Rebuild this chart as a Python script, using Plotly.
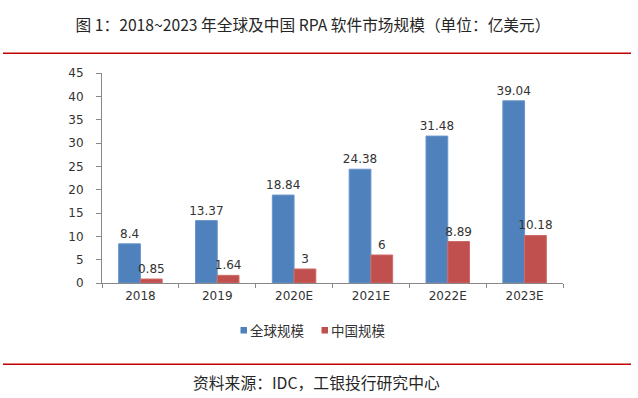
import plotly.graph_objects as go

categories = ["2018", "2019", "2020E", "2021E", "2022E", "2023E"]
global_values = [8.4, 13.37, 18.84, 24.38, 31.48, 39.04]
china_values = [0.85, 1.64, 3, 6, 8.89, 10.18]
series_names = ["全球规模", "中国规模"]
series_colors = ["#4F81BD", "#C0504D"]
edge_colors = ["#6A95C9", "#CD6B68"]
y_ticks = [0, 5, 10, 15, 20, 25, 30, 35, 40, 45]
title_text = "图 1：2018~2023 年全球及中国 RPA 软件市场规模（单位：亿美元）"
source_text = "资料来源：IDC，工银投行研究中心"

W, H = 638, 398
L, R, T, B = 102, 563, 73, 283
PW, PH = R - L, B - T


def px(x):
    return (x - L) / PW


def py(y):
    return (B - y) / PH


num_font = dict(family="DejaVu Sans, Verdana, sans-serif", size=12, color="#333333")
cjk = "Noto Sans CJK SC, sans-serif"

fig = go.Figure()
for name, vals, col, edge in zip(series_names, [global_values, china_values], series_colors, edge_colors):
    fig.add_trace(go.Bar(
        x=categories, y=vals, name=name,
        marker=dict(color=col, line=dict(color=edge, width=1)),
        text=[f"{v:g}" for v in vals], textposition="outside", constraintext="none",
        textfont=num_font, cliponaxis=False, showlegend=False,
    ))

shapes = [
    dict(type="line", xref="paper", yref="paper", x0=px(3), x1=px(631), y0=py(53.3), y1=py(53.3),
         line=dict(color="#C00000", width=1.5)),
    dict(type="line", xref="paper", yref="paper", x0=px(3), x1=px(631), y0=py(364.3), y1=py(364.3),
         line=dict(color="#C00000", width=1.5)),
]
annotations = [
    dict(text=source_text, xref="paper", yref="paper", x=px(316.7), y=py(382.7),
         xanchor="center", yanchor="middle", showarrow=False,
         font=dict(family=cjk, size=15.8, color="#262626")),
]
legend_x = [240.5, 321.5]
for name, col, lx in zip(series_names, series_colors, legend_x):
    shapes.append(dict(type="rect", xref="paper", yref="paper", x0=px(lx), x1=px(lx + 6.5),
                       y0=py(333.5), y1=py(327), fillcolor=col, line=dict(width=0)))
    annotations.append(dict(text=name, xref="paper", yref="paper", x=px(lx + 7.5), y=py(329.7),
                            xanchor="left", yanchor="middle", showarrow=False,
                            font=dict(family=cjk, size=13.5, color="#333333")))

fig.update_layout(
    width=W, height=H,
    margin=dict(l=L, r=W - R, t=T, b=H - B, pad=0),
    paper_bgcolor="white", plot_bgcolor="white",
    barmode="group", bargap=0.434, bargroupgap=0,
    title=dict(text=title_text, x=313 / W, xref="container", xanchor="center",
               y=1 - 25.7 / H, yref="container", yanchor="middle",
               font=dict(family=cjk, size=15.7, color="#262626")),
    shapes=shapes, annotations=annotations,
    xaxis=dict(type="category", showline=True, linecolor="#888888", linewidth=1,
               ticks="outside", tickson="boundaries", ticklen=4, tickcolor="#888888",
               tickfont=num_font, showgrid=False, zeroline=False, ticklabelstandoff=2),
    yaxis=dict(range=[0, 45], tickvals=y_ticks, showline=True, linecolor="#888888", linewidth=1,
               ticks="outside", ticklen=5, tickcolor="#888888", tickfont=num_font,
               showgrid=False, zeroline=False, ticklabelstandoff=10),
    showlegend=False,
)

fig.write_html("out.html", config={"displayModeBar": False},
               post_script="document.body.style.margin='0';document.body.style.overflow='hidden';")
